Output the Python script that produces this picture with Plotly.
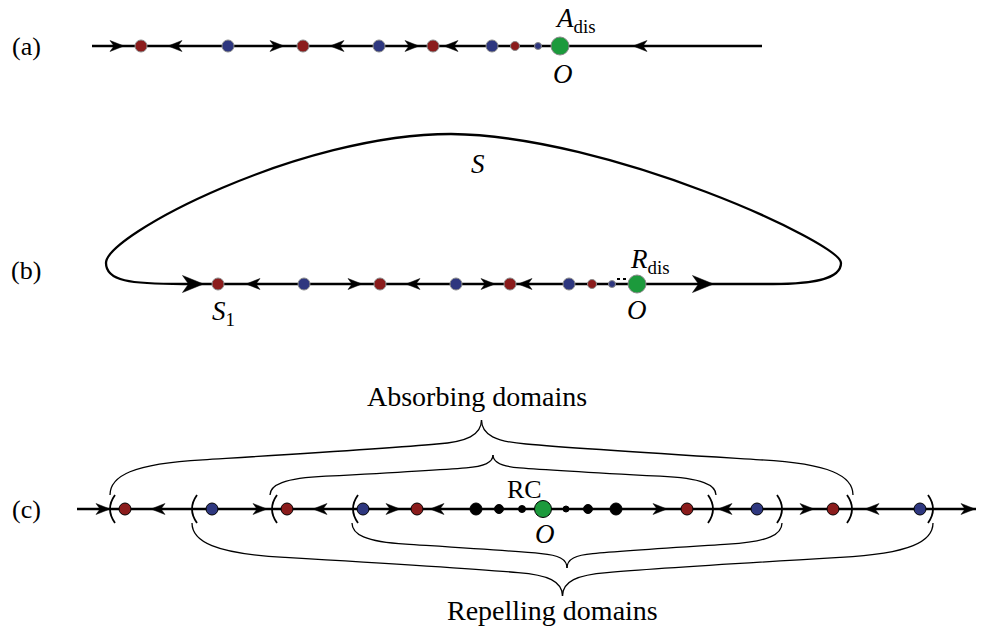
import plotly.graph_objects as go

W, H = 986, 630
RED, BLUE, GREEN, BLACK = "#8b1c1c", "#2e377f", "#1c9a3c", "#000000"
COLORS = {"r": RED, "b": BLUE, "g": GREEN, "k": BLACK}
FONT = "'Liberation Serif', 'Times New Roman', 'DejaVu Serif', serif"

# ---------------- panel (a) ----------------
a_y = 46
a_line = [92, 762]
a_dot_x = [141, 228, 303, 379, 433, 492, 515, 538, 560]
a_dot_kind = ["r", "b", "r", "b", "r", "b", "r", "b", "g"]
a_dot_size = [12, 12, 12, 12, 12, 12, 9, 7, 18]
a_arrow_x = [117, 175, 277, 337, 412, 451, 640]
a_arrow_dir = [1, -1, 1, -1, 1, -1, -1]

# ---------------- panel (b) ----------------
b_y = 284
b_dot_x = [218, 304, 380, 456, 510, 569, 592, 612, 637]
b_dot_kind = ["r", "b", "r", "b", "r", "b", "r", "b", "g"]
b_dot_size = [12, 12, 12, 12, 12, 12, 9, 7, 18]
b_arrow_x = [193, 253, 355, 413, 488, 525, 703]
b_arrow_dir = [1, -1, 1, -1, 1, -1, 1]
b_arrow_big = [1, 0, 0, 0, 0, 0, 1]
# loop S : start, then cubic segments (c1, c2, end)
b_loop_start = (183, 284)
b_loop_segments = [
    ((130, 284), (106, 281), (106, 263)),
    ((106, 235), (300, 134), (451, 134)),
    ((610, 136), (841, 243), (841, 263)),
    ((841, 280), (810, 284), (773, 284)),
]
b_ellipsis = [617, 628, 279]

# ---------------- panel (c) ----------------
c_y = 509
c_line = [77, 976]
c_dot_x = [125, 212, 287, 363, 417, 476, 499, 522, 543, 566, 588, 616, 687, 757, 833, 920]
c_dot_kind = ["r", "b", "r", "b", "r", "k", "k", "k", "g", "k", "k", "k", "r", "b", "r", "b"]
c_dot_size = [12, 12, 12, 12, 12, 12, 9, 7, 17, 6, 9, 12, 12, 12, 12, 12]
c_arrow_x = [103, 158, 260, 320, 393, 437, 660, 725, 807, 872, 968]
c_arrow_dir = [1, -1, 1, -1, 1, -1, 1, -1, 1, -1, 1]
c_paren_open = [110, 192, 272, 353]
c_paren_close = [713, 782, 852, 933]
# braces: (x_left, x_right, y_end, y_tip)
c_braces = [
    (110, 853, 495, 420),
    (270, 716, 495, 455),
    (352, 782, 523, 568),
    (192, 933, 523, 596),
]

fig = go.Figure()
shapes = []


def line(x0, x1, y, w=2.3):
    shapes.append(dict(type="line", x0=x0, x1=x1, y0=y, y1=y,
                       line=dict(color="black", width=w), layer="below"))


def arrow(x, y, d, big=False):
    L, Wd, N = (21, 17, 6) if big else (14, 11, 4)
    tip = x + d * L / 2
    back = x - d * L / 2
    notch = back + d * N
    p = f"M{tip},{y} L{back},{y - Wd / 2} L{notch},{y} L{back},{y + Wd / 2} Z"
    shapes.append(dict(type="path", path=p, fillcolor="black",
                       line=dict(color="black", width=0.5)))


def dots(xs, y, kinds, sizes, outline):
    fig.add_trace(go.Scatter(
        x=xs, y=[y] * len(xs), mode="markers", hoverinfo="skip",
        marker=dict(color=[COLORS[k] for k in kinds], size=sizes, opacity=1,
                    line=dict(color=outline, width=1))))


# panel (a)
line(*a_line, a_y)
for x, d in zip(a_arrow_x, a_arrow_dir):
    arrow(x, a_y, d)
dots(a_dot_x, a_y, a_dot_kind, a_dot_size, "#8a8a8a")

# panel (b)
p = f"M{b_loop_start[0]},{b_loop_start[1]}"
for c1, c2, e in b_loop_segments:
    p += f" C{c1[0]},{c1[1]} {c2[0]},{c2[1]} {e[0]},{e[1]}"
p += " Z"
shapes.append(dict(type="path", path=p, line=dict(color="black", width=2.3), layer="below"))
for x, d, bg in zip(b_arrow_x, b_arrow_dir, b_arrow_big):
    arrow(x, b_y, d, bool(bg))
fig.add_trace(go.Scatter(x=[b_ellipsis[0], b_ellipsis[1]], y=[b_ellipsis[2]] * 2, mode="lines",
                         hoverinfo="skip", line=dict(color="black", width=2, dash="dot")))
dots(b_dot_x, b_y, b_dot_kind, b_dot_size, "#8a8a8a")

# panel (c)
line(*c_line, c_y)
for x, d in zip(c_arrow_x, c_arrow_dir):
    arrow(x, c_y, d)


def paren(x, y, d):
    # d=+1 for "(", -1 for ")"
    e = x + d * 5
    c = x - d * 5
    shapes.append(dict(type="path", path=f"M{e},{y - 14} Q{c},{y} {e},{y + 14}",
                       line=dict(color="black", width=1.8)))


for x in c_paren_open:
    paren(x, c_y, 1)
for x in c_paren_close:
    paren(x, c_y, -1)

# normalized half-brace (f along x to tip, g toward tip)
HALF = [(0, 0), (0, 0.25), (0.06, 0.42), (0.25, 0.47), (0.45, 0.53), (0.75, 0.62),
        (0.88, 0.68), (0.96, 0.71), (1.0, 0.8), (1, 1)]


def brace(xl, xr, y0, yt):
    xm = (xl + xr) / 2
    h = yt - y0
    for xe in (xl, xr):
        pts = [(xe + f * (xm - xe), y0 + g * h) for f, g in HALF]
        s = f"M{pts[0][0]:.1f},{pts[0][1]:.1f}"
        for i in range(1, 10, 3):
            s += " C" + " ".join(f"{px:.1f},{py:.1f}" for px, py in pts[i:i + 3])
        shapes.append(dict(type="path", path=s, line=dict(color="black", width=1.3)))


for b in c_braces:
    brace(*b)

dots(c_dot_x, c_y, c_dot_kind, c_dot_size, "black")

# ---------------- texts ----------------
texts = [
    ("(a)", 26, 46, 26), ("(b)", 26, 270, 26), ("(c)", 26, 509, 26),
    ("<i>A</i><sub>dis</sub>", 575, 20, 27), ("<i>O</i>", 563, 74, 27),
    ("<i>S</i>", 478, 164, 27), ("<i>R</i><sub>dis</sub>", 650, 261, 27), ("<i>O</i>", 637, 310, 27),
    ("<i>S</i><sub>1</sub>", 223, 313, 27),
    ("RC", 524, 489, 26), ("<i>O</i>", 545, 534, 27),
    ("Absorbing domains", 477, 396, 28), ("Repelling domains", 552, 610, 28),
]
for t, x, y, sz in texts:
    fig.add_annotation(x=x, y=y, text=t, showarrow=False, xanchor="center", yanchor="middle",
                       font=dict(family=FONT, size=sz, color="black"))

fig.update_layout(
    width=W, height=H, autosize=False, showlegend=False,
    margin=dict(l=0, r=0, t=0, b=0, pad=0),
    paper_bgcolor="white", plot_bgcolor="white",
    xaxis=dict(range=[0, W], visible=False, fixedrange=True),
    yaxis=dict(range=[H, 0], visible=False, fixedrange=True),
    shapes=shapes,
)
fig.write_html("out.html")
